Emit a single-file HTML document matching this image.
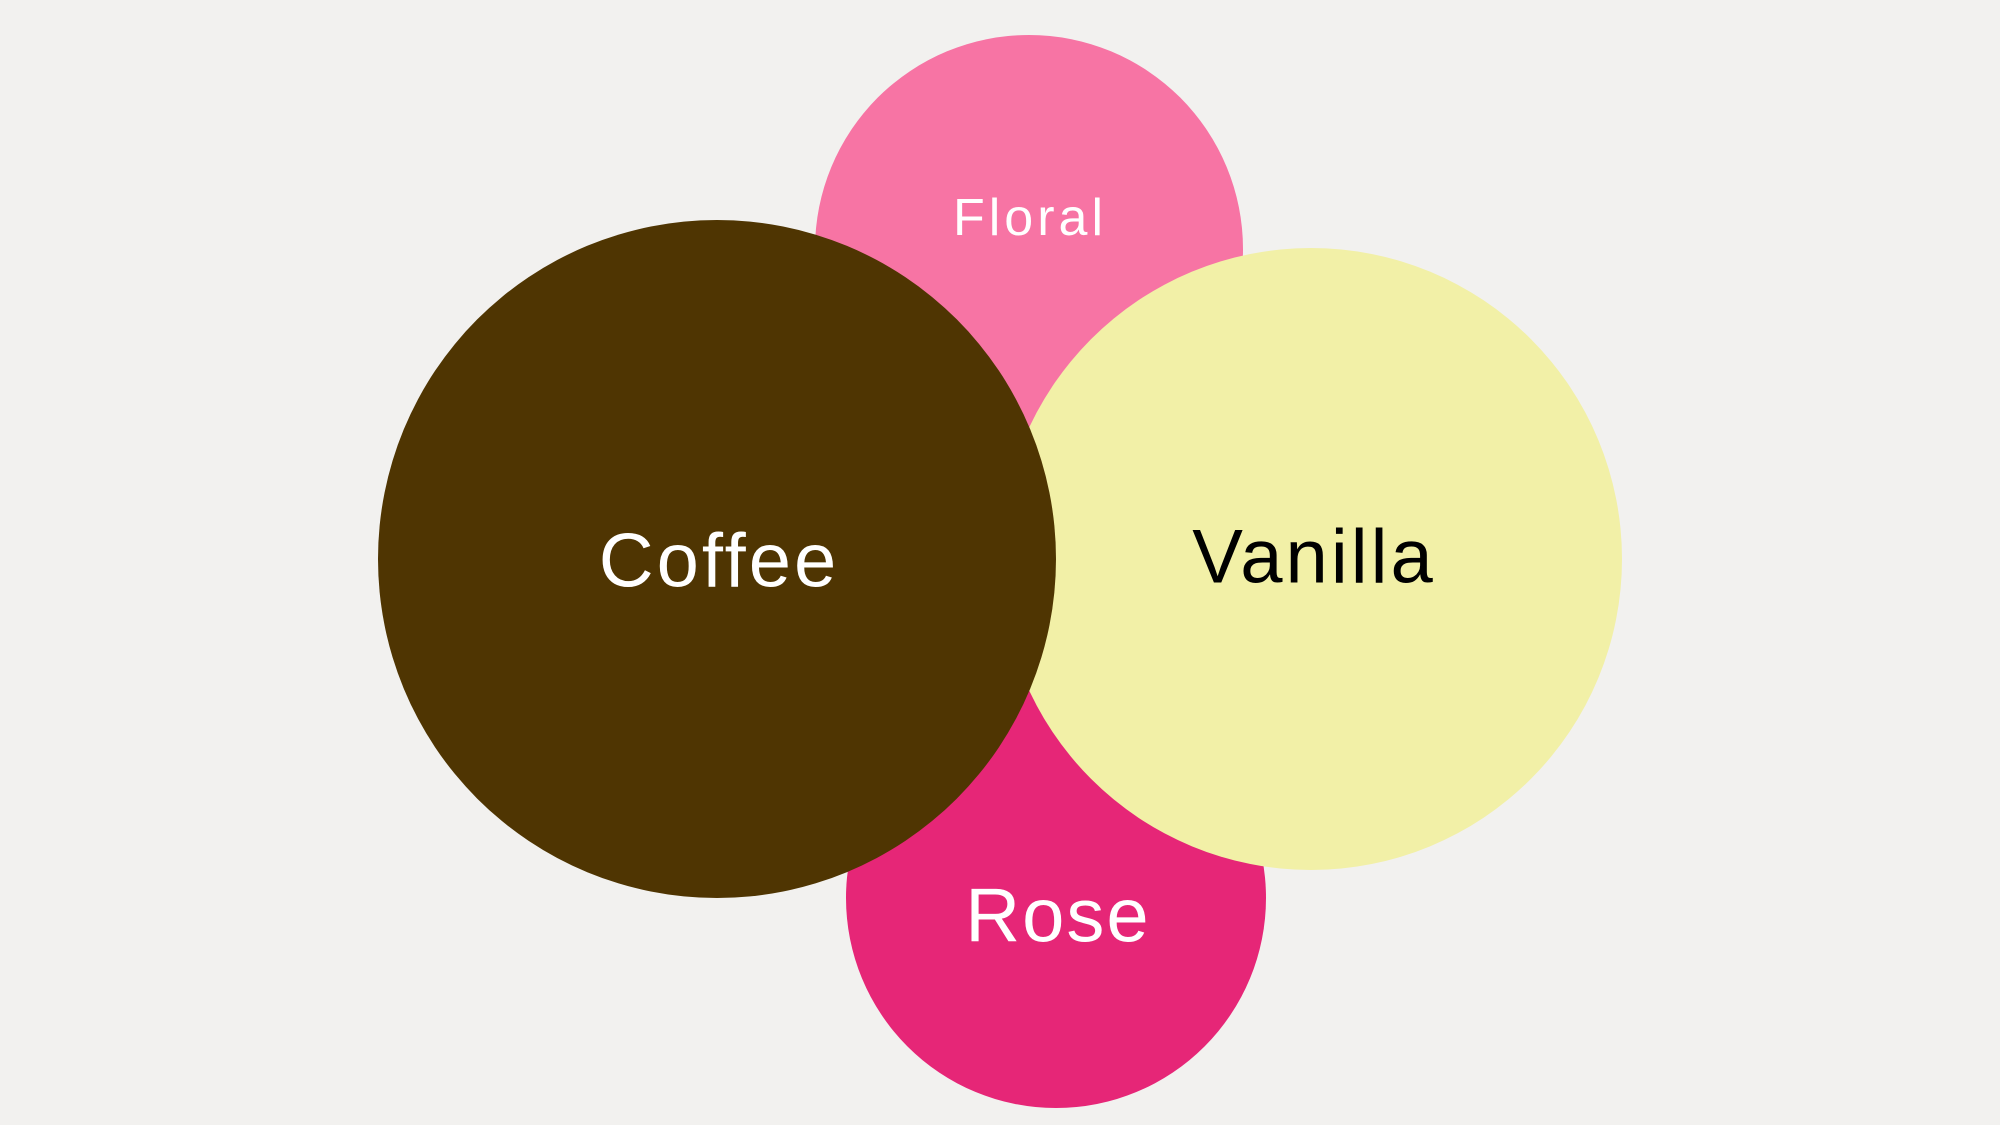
<!DOCTYPE html>
<html><head><meta charset="utf-8"><style>
html,body{margin:0;padding:0;background:#f2f1ef;}
svg{display:block;}
text{font-family:"Liberation Sans",sans-serif;text-anchor:middle;dominant-baseline:central;}
</style></head><body>
<svg width="2000" height="1125" viewBox="0 0 2000 1125" xmlns="http://www.w3.org/2000/svg">
<rect width="2000" height="1125" fill="#f2f1ef"/>
<circle cx="1029" cy="249" r="214" fill="#f774a4"/>
<circle cx="1056" cy="898" r="210" fill="#e62677"/>
<circle cx="1311" cy="559" r="311" fill="#f2f0a7"/>
<circle cx="717" cy="559" r="339" fill="#4f3502"/>
<text x="1030" y="218" font-size="52" fill="#ffffff" letter-spacing="4">Floral</text>
<text x="719" y="561" font-size="76" fill="#ffffff" letter-spacing="3">Coffee</text>
<text x="1314" y="557" font-size="76" fill="#000000" letter-spacing="3">Vanilla</text>
<text x="1058" y="916" font-size="76" fill="#ffffff" letter-spacing="2">Rose</text>
</svg>
</body></html>
